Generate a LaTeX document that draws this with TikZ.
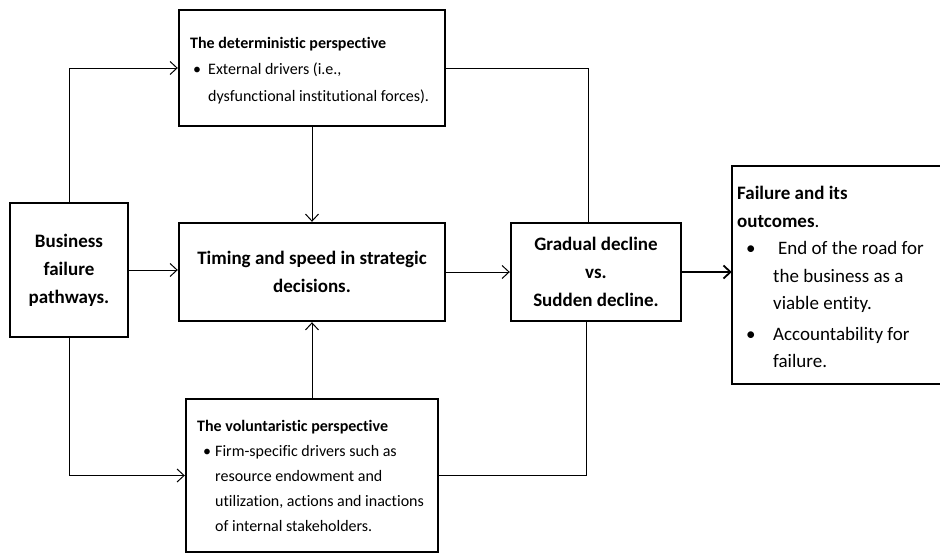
\documentclass[tikz,border=0pt]{standalone}
\usepackage{fontspec}
\setmainfont{Carlito}[Ligatures=NoCommon]
\usetikzlibrary{arrows.meta}
\begin{document}
\begin{tikzpicture}[x=1pt,y=-1pt,
  box/.style={draw, line width=2.4pt, inner sep=0pt},
  mainlbl/.style={align=center, font=\bfseries\fontsize{19}{28}\selectfont},
  txt/.style={anchor=north west, inner sep=0pt, align=left},
  conn/.style={line width=1pt},
  arr/.style={conn, -{Straight Barb[length=7pt,width=13pt]}}]
\useasboundingbox (0,0) rectangle (940,554);
% boxes
\node[box, mainlbl, minimum width=118pt, minimum height=134pt] (biz) at (69,270) {Business\\failure\\pathways.};
\node[box, mainlbl, minimum width=266pt, minimum height=98pt] (tim) at (312,272) {Timing and speed in strategic\\decisions.};
\node[box, mainlbl, minimum width=170pt, minimum height=98pt] (grad) at (596,272) {Gradual decline\\vs.\\Sudden decline.};
\node[box, minimum width=266pt, minimum height=116pt] (det) at (312,68) {};
\node[box, minimum width=252pt, minimum height=153pt] (vol) at (312,475.5) {};
\node[inner sep=0pt, outer sep=1.2pt, minimum width=206pt, minimum height=216pt] (fail) at (836,275) {};
\draw[line width=2.4pt] (fail.north east) -- (fail.north west) -- (fail.south west) -- (fail.south east);
% texts
\node[txt, font=\fontsize{16}{26.5}\selectfont] (dett) at (190,37)
  {\textbf{The deterministic perspective}\\
   \makebox[18pt][l]{\hspace{3pt}•}External drivers (i.e.,\\
   \hspace*{18pt}dysfunctional institutional forces).};
\node[txt, font=\fontsize{16}{25}\selectfont] (volt) at (197,420)
  {\textbf{The voluntaristic perspective}\\
   \makebox[18pt][l]{\hspace{6pt}•}Firm-specific drivers such as\\
   \hspace*{18pt}resource endowment and\\
   \hspace*{18pt}utilization, actions and inactions\\
   \hspace*{18pt}of internal stakeholders.};
\node[txt, font=\fontsize{19}{27.5}\selectfont] (failt) at (737,186)
  {\textbf{Failure and its}\\
   \textbf{outcomes}.\\
   \makebox[36pt][l]{\hspace{9pt}•}\hspace{5pt}End of the road for\\
   \hspace*{36pt}the business as a\\
   \hspace*{36pt}viable entity.\\[3pt]
   \makebox[36pt][l]{\hspace{9pt}•}Accountability for\\
   \hspace*{36pt}failure.};
% connectors
\draw[arr] (biz.north) |- (det.west);
\draw[arr] (biz.south) |- (vol.west);
\draw[arr] (biz.east) -- (biz.east -| tim.west);
\draw[arr] (det.south) -- (tim.north);
\draw[arr] (vol.north) -- (tim.south);
\draw[arr] (tim.east) -- (tim.east -| grad.west);
\draw[conn] (det.east) -| ([xshift=-8pt]grad.north);
\draw[conn] (vol.east) -| ([xshift=-10pt]grad.south);
\draw[arr, line width=1.8pt] (grad.east) -- (grad.east -| fail.west);
\end{tikzpicture}
\end{document}
